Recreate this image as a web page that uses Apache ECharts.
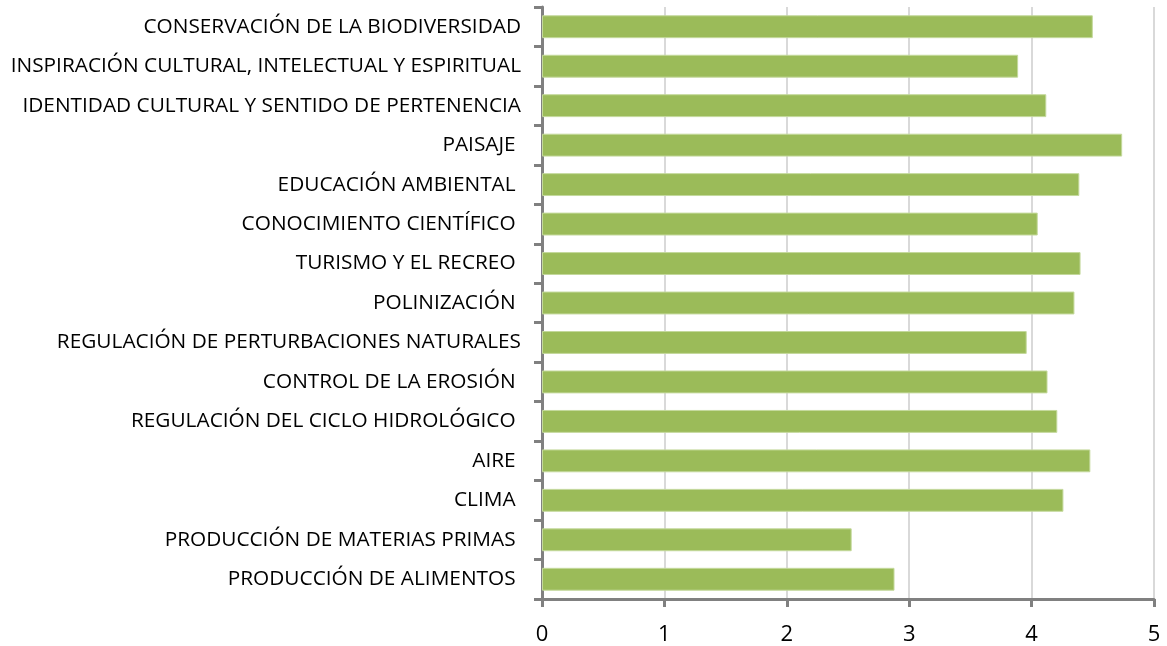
<!DOCTYPE html>
<html>
<head>
<meta charset="utf-8">
<script src="https://cdn.jsdelivr.net/npm/echarts@6/dist/echarts.min.js"></script>
<style>
  html, body { margin: 0; padding: 0; background: #fff; }
  #chart { width: 1167px; height: 646px; }
</style>
</head>
<body>
<div id="chart"></div>
<script>
  // categorias, de arriba hacia abajo
  var categorias = [
    'CONSERVACIÓN DE LA BIODIVERSIDAD',
    'INSPIRACIÓN CULTURAL, INTELECTUAL Y ESPIRITUAL',
    'IDENTIDAD CULTURAL Y SENTIDO DE PERTENENCIA',
    'PAISAJE ',
    'EDUCACIÓN AMBIENTAL ',
    'CONOCIMIENTO CIENTÍFICO ',
    'TURISMO Y EL RECREO ',
    'POLINIZACIÓN ',
    'REGULACIÓN DE PERTURBACIONES NATURALES',
    'CONTROL DE LA EROSIÓN ',
    'REGULACIÓN DEL CICLO HIDROLÓGICO ',
    'AIRE ',
    'CLIMA ',
    'PRODUCCIÓN DE MATERIAS PRIMAS ',
    'PRODUCCIÓN DE ALIMENTOS '
  ];
  var valores = [4.50, 3.89, 4.12, 4.74, 4.39, 4.05, 4.40, 4.35, 3.96, 4.13, 4.21, 4.48, 4.26, 2.53, 2.88];
  var xTicks = [0, 1, 2, 3, 4, 5];

  var chart = echarts.init(document.getElementById('chart'));
  chart.setOption({
    animation: false,
    grid: { left: 542, top: 7, right: 13, bottom: 46, containLabel: false },
    xAxis: {
      type: 'value',
      min: xTicks[0],
      max: xTicks[xTicks.length - 1],
      interval: 1,
      axisLine: { show: true, lineStyle: { color: '#808080', width: 3 } },
      axisTick: { show: true, length: 8, lineStyle: { color: '#808080', width: 3 } },
      axisLabel: { margin: 25, fontSize: 22, color: '#000', fontFamily: 'Open Sans' },
      splitLine: { show: true, lineStyle: { color: '#d9d9d9', width: 2 } }
    },
    yAxis: {
      type: 'category',
      inverse: true,
      data: categorias,
      axisLine: { show: true, lineStyle: { color: '#808080', width: 3 } },
      axisTick: { show: true, length: 8, lineStyle: { color: '#808080', width: 3 } },
      axisLabel: { margin: 21, fontSize: 20.8, color: '#000', fontFamily: 'Open Sans' },
      splitLine: { show: false }
    },
    series: [{
      type: 'bar',
      data: valores,
      barCategoryGap: '42%',
      itemStyle: { color: '#9bbb59', borderColor: '#c4d99c', borderWidth: 1 }
    }]
  });
</script>
</body>
</html>
